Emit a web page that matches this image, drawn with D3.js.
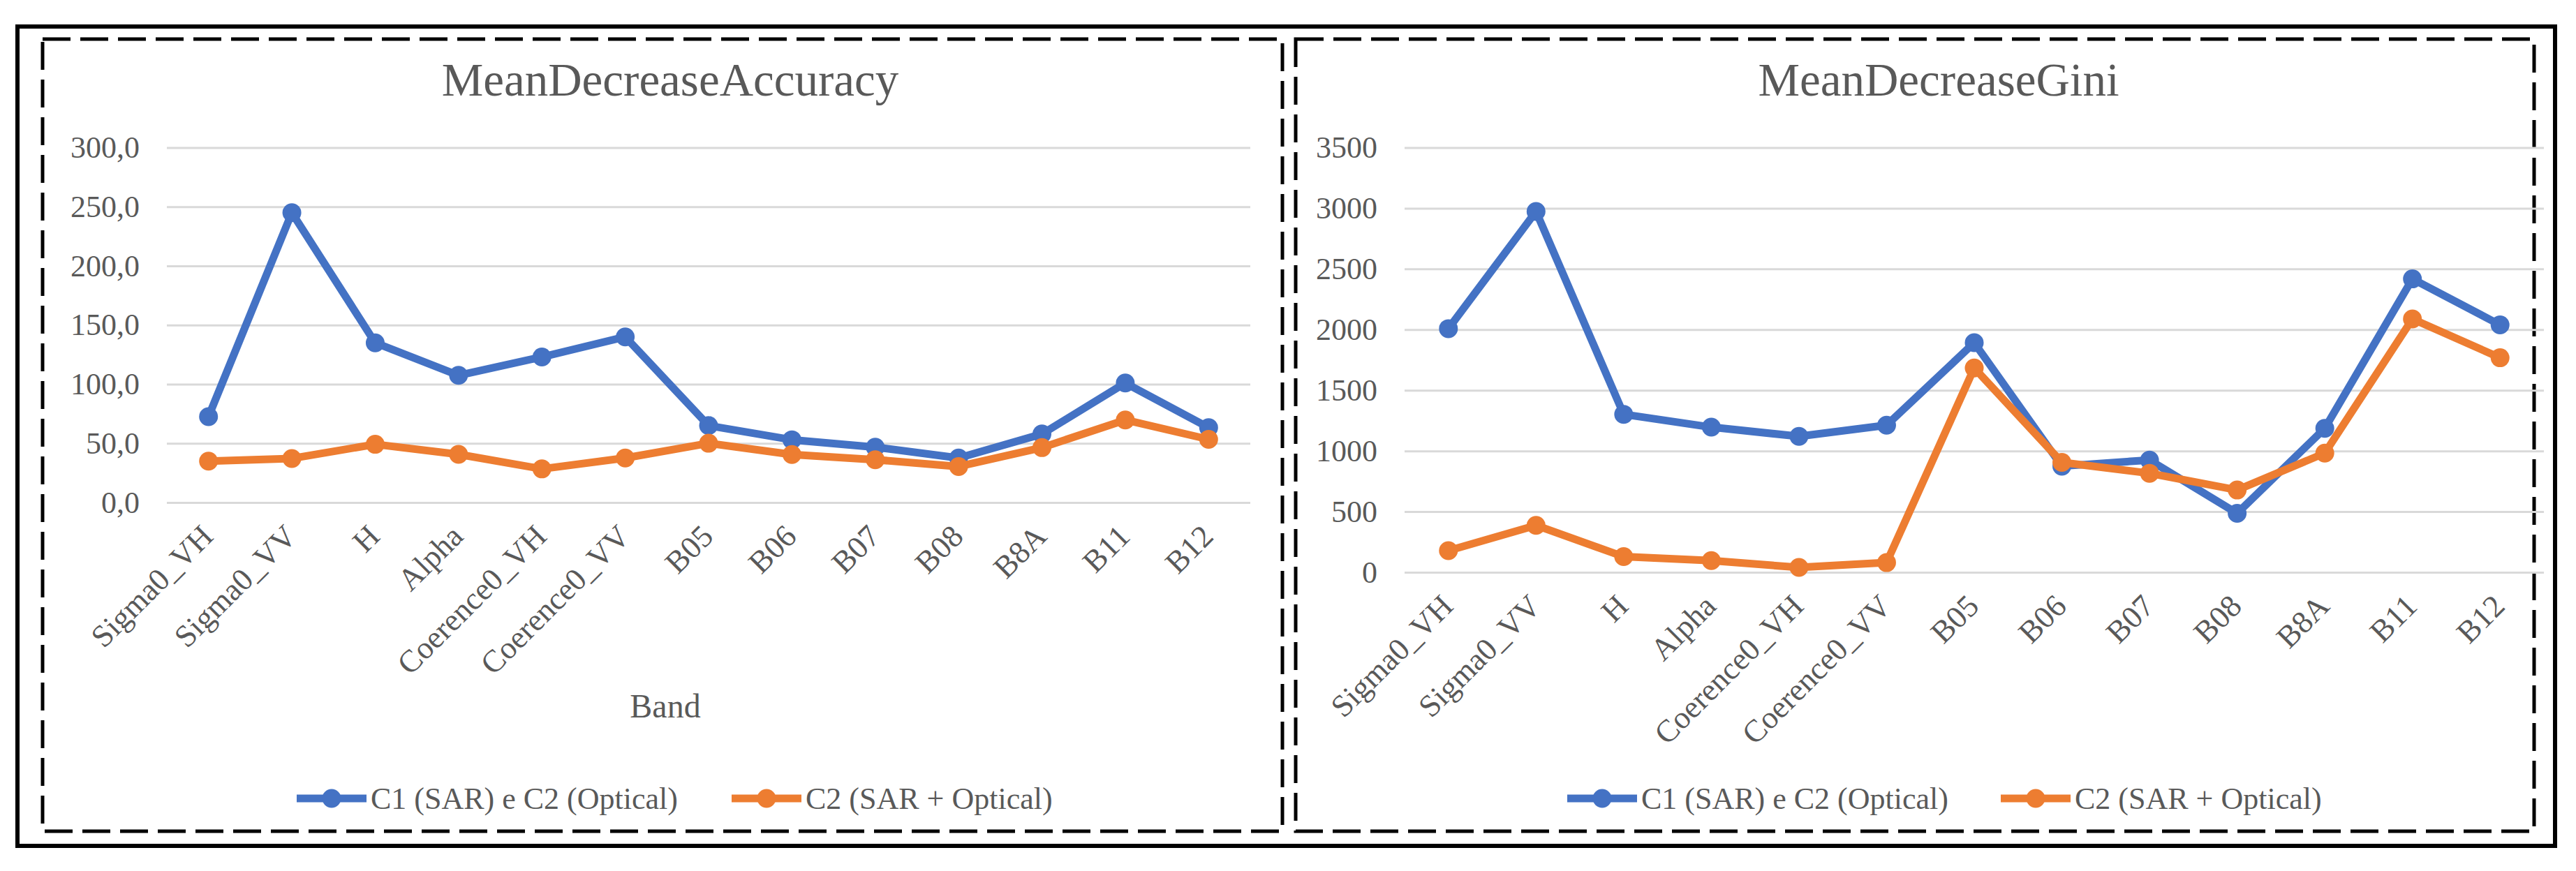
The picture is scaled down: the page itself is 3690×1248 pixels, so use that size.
<!DOCTYPE html>
<html>
<head>
<meta charset="utf-8">
<script src="https://cdn.jsdelivr.net/npm/d3@7"></script>
<style>
  html, body { margin: 0; padding: 0; background: #fff; }
  svg { display: block; }
  text { font-family: "Liberation Serif", "Times New Roman", serif; fill: #595959; }
</style>
</head>
<body>
<svg id="chart" width="3690" height="1248"></svg>
<script>
// ---- data ----
const categories = ["Sigma0_VH", "Sigma0_VV", "H", "Alpha", "Coerence0_VH", "Coerence0_VV",
                    "B05", "B06", "B07", "B08", "B8A", "B11", "B12"];
const seriesNames = ["C1 (SAR) e C2 (Optical)", "C2 (SAR + Optical)"];

const accuracyC1 = [72.6, 245, 135, 107.5, 123, 140, 65, 53, 46.8, 37.6, 57.9, 101, 63.3];
const accuracyC2 = [35, 37.2, 49.2, 40.7, 28.4, 37.6, 50.1, 40.6, 36.2, 30.4, 46.4, 69.8, 53.4];
const accuracyTicks = [0, 50, 100, 150, 200, 250, 300];
const accuracyTickLabels = ["0,0", "50,0", "100,0", "150,0", "200,0", "250,0", "300,0"];

const giniC1 = [2008, 2974, 1302, 1196, 1120, 1212, 1892, 875, 925, 486, 1186, 2418, 2039];
const giniC2 = [178, 387, 129, 96, 40, 80, 1684, 906, 816, 678, 982, 2088, 1768];
const giniTicks = [0, 500, 1000, 1500, 2000, 2500, 3000, 3500];
const giniTickLabels = ["0", "500", "1000", "1500", "2000", "2500", "3000", "3500"];

const colors = ["#4472C4", "#ED7D31"];

// ---- drawing ----
const svg = d3.select("#chart");

// outer solid frame
svg.append("rect")
  .attr("x", 25).attr("y", 38).attr("width", 3635).attr("height", 1174)
  .attr("fill", "none").attr("stroke", "#000").attr("stroke-width", 6);

function drawChart(cfg) {
  const g = svg.append("g");

  // dashed panel frame
  g.append("rect")
    .attr("x", cfg.frame[0]).attr("y", cfg.frame[1])
    .attr("width", cfg.frame[2] - cfg.frame[0]).attr("height", cfg.frame[3] - cfg.frame[1])
    .attr("fill", "none").attr("stroke", "#000").attr("stroke-width", 5)
    .attr("stroke-dasharray", "40,14");

  const x = d3.scaleBand().domain(categories).range([cfg.plot.x0, cfg.plot.x1]);
  const y = d3.scaleLinear().domain([0, cfg.max]).range([cfg.plot.y0, cfg.plot.y1]);

  // gridlines + y labels via axis
  const yAxis = d3.axisLeft(y)
    .tickValues(cfg.ticks)
    .tickSize(-(cfg.plot.x1 - cfg.plot.x0))
    .tickPadding(39)
    .tickFormat((d, i) => cfg.tickLabels[i]);
  const ya = g.append("g")
    .attr("transform", `translate(${cfg.plot.x0},0)`)
    .call(yAxis);
  ya.select(".domain").remove();
  ya.selectAll(".tick line").attr("stroke", "#D9D9D9").attr("stroke-width", 3);
  ya.selectAll(".tick text")
    .attr("font-size", 44).attr("fill", "#595959")
    .style("font-family", "'Liberation Serif', 'Times New Roman', serif");

  // x labels via axis
  const xAxis = d3.axisBottom(x).tickSize(0).tickPadding(0);
  const xa = g.append("g")
    .attr("transform", `translate(0,${cfg.plot.y0})`)
    .call(xAxis);
  xa.select(".domain").remove();
  xa.selectAll(".tick text")
    .attr("font-size", 45).attr("fill", "#595959")
    .style("font-family", "'Liberation Serif', 'Times New Roman', serif")
    .attr("text-anchor", "end")
    .attr("y", 0).attr("dy", "0.35em")
    .attr("transform", "translate(-2,40) rotate(-45)");

  // lines & markers
  const line = d3.line()
    .x((d, i) => x(categories[i]) + x.bandwidth() / 2)
    .y(d => y(d));
  cfg.series.forEach((vals, si) => {
    g.append("path")
      .datum(vals)
      .attr("d", line)
      .attr("fill", "none")
      .attr("stroke", colors[si])
      .attr("stroke-width", 11)
      .attr("stroke-linejoin", "round");
    g.selectAll(null)
      .data(vals)
      .enter().append("circle")
      .attr("cx", (d, i) => x(categories[i]) + x.bandwidth() / 2)
      .attr("cy", d => y(d))
      .attr("r", 13.5)
      .attr("fill", colors[si]);
  });

  // title
  g.append("text")
    .attr("x", cfg.titleX).attr("y", 137)
    .attr("text-anchor", "middle")
    .attr("font-size", 67)
    .text(cfg.title);

  // axis title
  if (cfg.axisTitle) {
    g.append("text")
      .attr("x", cfg.axisTitle.x).attr("y", cfg.axisTitle.y)
      .attr("text-anchor", "middle")
      .attr("font-size", 48)
      .text(cfg.axisTitle.text);
  }

  // legend
  cfg.legend.forEach((lg, si) => {
    const ly = 1144;
    g.append("line")
      .attr("x1", lg.x0).attr("x2", lg.x0 + 100)
      .attr("y1", ly).attr("y2", ly)
      .attr("stroke", colors[si]).attr("stroke-width", 11);
    g.append("circle")
      .attr("cx", lg.x0 + 50).attr("cy", ly).attr("r", 13.5)
      .attr("fill", colors[si]);
    g.append("text")
      .attr("x", lg.x0 + 106).attr("y", ly).attr("dy", "0.35em")
      .attr("font-size", 44)
      .text(seriesNames[si]);
  });
}

drawChart({
  frame: [61, 56, 1837, 1191],
  plot: { x0: 239, x1: 1791, y0: 720, y1: 211.5 },
  max: 300,
  ticks: accuracyTicks,
  tickLabels: accuracyTickLabels,
  series: [accuracyC1, accuracyC2],
  title: "MeanDecreaseAccuracy",
  titleX: 960,
  axisTitle: { text: "Band", x: 953, y: 1028 },
  legend: [{ x0: 425 }, { x0: 1048 }]
});

drawChart({
  frame: [1856, 56, 3630, 1191],
  plot: { x0: 2012, x1: 3644, y0: 820, y1: 211.5 },
  max: 3500,
  ticks: giniTicks,
  tickLabels: giniTickLabels,
  series: [giniC1, giniC2],
  title: "MeanDecreaseGini",
  titleX: 2777,
  axisTitle: null,
  legend: [{ x0: 2245 }, { x0: 2866 }]
});
</script>
</body>
</html>
